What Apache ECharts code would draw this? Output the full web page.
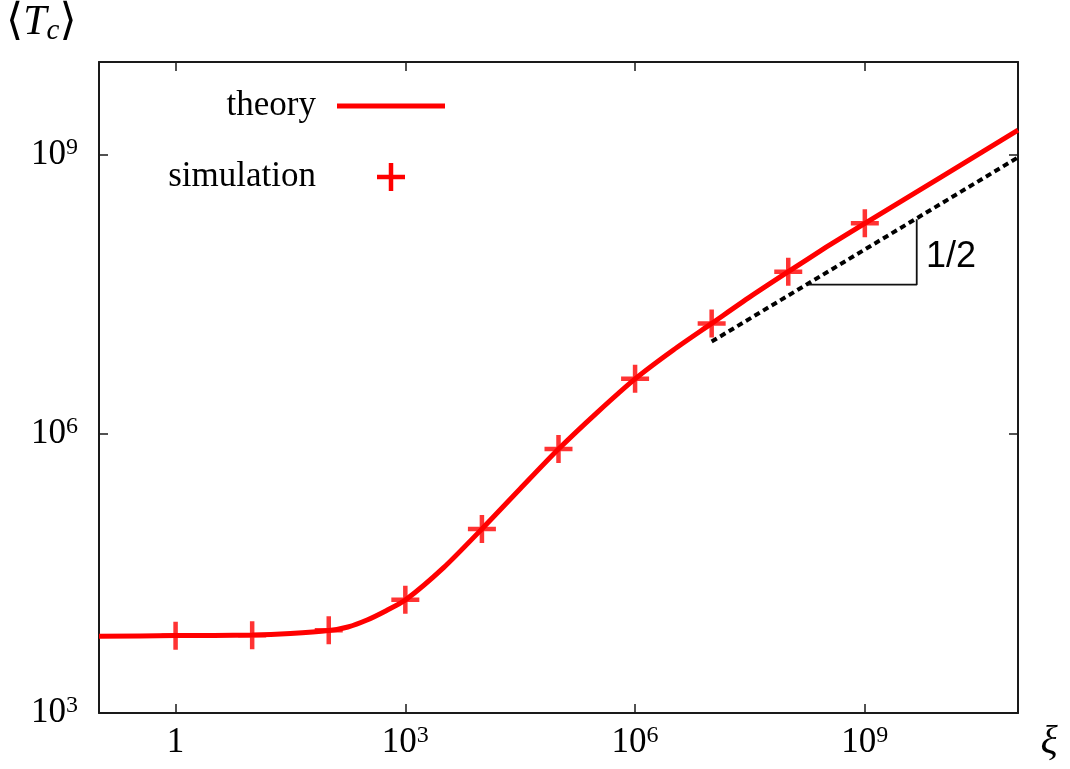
<!DOCTYPE html>
<html><head><meta charset="utf-8">
<script src="https://cdn.jsdelivr.net/npm/echarts@6/dist/echarts.min.js"></script>
<style>html,body{margin:0;padding:0;background:#fff}#c{width:1070px;height:769px}</style>
</head><body><div id="c"></div>
<script>
// ---- data ----
const theoryXi = [0.1, 1, 10, 31.6, 100, 177.8, 316.2, 562.3, 1000, 3162, 1e4, 31623, 1e5, 316228, 1e6, 3.162e6, 1e7, 3.162e7, 1e8, 3.162e8, 1e9, 1e10, 1e11];
const theoryTc = [6683, 6792, 6887, 7145, 7691, 8414, 10000, 12590, 16370, 36560, 95280, 257600, 688700, 1.690e6, 3.917e6, 8.017e6, 1.545e7, 2.979e7, 5.559e7, 1.026e8, 1.841e8, 5.834e8, 1.849e9];
const simXi = [1, 10, 100, 1e3, 1e4, 1e5, 1e6, 1e7, 1e8, 1e9];
const simTc = [6790, 6860, 7750, 16560, 95280, 6.887e5, 3.917e6, 1.545e7, 5.559e7, 1.841e8];
const guideXi = [1e7, 1e11];
const guideTc = [9.86e6, 9.42e8];
const triXi = [1.80e8, 4.76e9, 4.76e9];
const triTc = [4.03e7, 4.03e7, 2.04e8];
const xTickValues = [1, 1e3, 1e6, 1e9];
const xTickLabels = ['1', '10^3', '10^6', '10^9'];
const yTickValues = [1e3, 1e6, 1e9];
const yTickLabels = ['10^3', '10^6', '10^9'];

const SERIF = '"Liberation Serif", "Times New Roman", serif';
const RED = '#ff0000';
const AX = '#1a1a1a';
const PLUS = 'path://M11.75,0H16.25V11.75H28V16.25H16.25V28H11.75V16.25H0V11.75H11.75Z';

function zip(a, b) { return a.map((v, i) => [v, b[i]]); }
function tickFmt(values, labels) {
  return function (v) {
    const i = values.findIndex(t => Math.abs(Math.log10(t) - Math.log10(v)) < 1e-6);
    if (i < 0) return '';
    const p = labels[i].split('^');
    return p.length > 1 ? '{b|' + p[0] + '}{s|' + p[1] + '}' : '{b|' + p[0] + '}';
  };
}
const rich = {
  b: { fontFamily: SERIF, fontSize: 35, color: '#000', lineHeight: 38 },
  s: { fontFamily: SERIF, fontSize: 24, color: '#000', verticalAlign: 'top' }
};
function axisBase(min, max, pos, vals, labels, showLabel, margin) {
  return {
    type: 'log', logBase: 10, min: min, max: max, position: pos,
    axisLine: { show: true, lineStyle: { color: AX, width: 2 } },
    axisTick: { show: true, inside: true, length: 9, customValues: vals, lineStyle: { color: AX, width: 1.5 } },
    minorTick: { show: false },
    splitLine: { show: false },
    axisLabel: showLabel ? { show: true, customValues: vals, margin: margin, formatter: tickFmt(vals, labels), rich: rich } : { show: false }
  };
}

const chart = echarts.init(document.getElementById('c'), null, { renderer: 'canvas' });
chart.setOption({
  animation: false,
  backgroundColor: '#fff',
  grid: { left: 99, right: 52, top: 62, bottom: 56, containLabel: false },
  xAxis: [
    axisBase(0.1, 1e11, 'bottom', xTickValues, xTickLabels, true, 11),
    axisBase(0.1, 1e11, 'top', xTickValues, xTickLabels, false, 0)
  ],
  yAxis: [
    axisBase(1e3, 1e10, 'left', yTickValues, yTickLabels, true, 21),
    axisBase(1e3, 1e10, 'right', yTickValues, yTickLabels, false, 0)
  ],
  series: [
    { name: 'slope guide', type: 'line', data: zip(guideXi, guideTc), symbol: 'none',
      lineStyle: { color: '#000', width: 4, type: [6, 4] }, z: 2 },
    { name: 'slope triangle', type: 'line', data: zip(triXi, triTc), symbol: 'none',
      lineStyle: { color: '#111', width: 1.8 }, z: 2 },
    { name: 'theory', type: 'line', data: zip(theoryXi, theoryTc), symbol: 'none', smooth: 0.25,
      lineStyle: { color: RED, width: 5 }, z: 3 },
    { name: 'simulation', type: 'scatter', data: zip(simXi, simTc), symbol: PLUS, symbolSize: 28,
      itemStyle: { color: RED }, z: 4 }
  ],
  graphic: [
    { type: 'text', x: 316, y: 106, style: { text: 'theory', align: 'right', verticalAlign: 'middle', font: '35px ' + SERIF, fill: '#000' } },
    { type: 'line', shape: { x1: 337, y1: 106, x2: 445, y2: 106 }, style: { stroke: RED, lineWidth: 5 } },
    { type: 'text', x: 316, y: 177, style: { text: 'simulation', align: 'right', verticalAlign: 'middle', font: '35px ' + SERIF, fill: '#000' } },
    { type: 'rect', shape: { x: 377, y: 174.75, width: 28, height: 4.5 }, style: { fill: RED } },
    { type: 'rect', shape: { x: 388.75, y: 163, width: 4.5, height: 28 }, style: { fill: RED } },
    { type: 'text', x: 951, y: 257, style: { text: '1/2', align: 'center', verticalAlign: 'middle', font: '36px "Liberation Sans", Arial, sans-serif', fill: '#000' } },
    { type: 'text', x: 1049, y: 742, style: { text: 'ξ', align: 'center', verticalAlign: 'middle', font: 'italic 40px ' + SERIF, fill: '#000' } },
    { type: 'text', x: 6, y: 0, style: {
        text: '{br|⟨}{it|T}{sub|c}{br|⟩}',
        rich: {
          br: { fontFamily: '"DejaVu Serif", "DejaVu Sans", serif', fontSize: 44, lineHeight: 46, color: '#000' },
          it: { fontFamily: SERIF, fontStyle: 'italic', fontSize: 42, lineHeight: 46, color: '#000' },
          sub: { fontFamily: SERIF, fontStyle: 'italic', fontSize: 29, verticalAlign: 'bottom', color: '#000' }
        }
      } }
  ]
});
</script>
</body></html>
